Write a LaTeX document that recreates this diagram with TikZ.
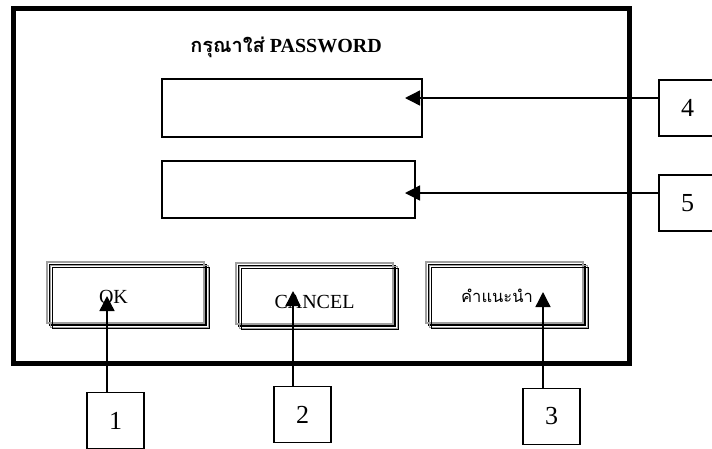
\documentclass[tikz,border=0pt]{standalone}
\usepackage{fontspec}
\setmainfont{Liberation Serif}
\newfontfamily\thai[Script=Thai]{Loma}
\usetikzlibrary{arrows.meta}
\tikzset{
  frame/.style={draw=black, line width=5pt},
  field/.style={draw=black, line width=1.5pt, inner sep=0pt},
  numbox/.style={draw=black, line width=1.3pt, minimum width=57pt, minimum height=56pt, inner sep=0pt, font=\fontsize{26}{28}\selectfont},
  btn/.style={draw=black, line width=1.3pt, minimum width=156pt, minimum height=60pt, inner sep=0pt},
  btnshade/.style={draw=gray!75, line width=1.8pt},
  btnshadow/.style={draw=black, line width=1.3pt},
  arr/.style={draw=black, line width=1.4pt, -{Triangle[length=15pt,width=15pt]}},
}
\begin{document}
\begin{tikzpicture}[x=1pt,y=-1pt]
\useasboundingbox (0,0) rectangle (712,448);
\clip (0,0) rectangle (712,448);
\fill[white] (0,0) rectangle (712,448);
% outer window
\draw[frame] (13,8) rectangle (629.5,363);
% title
\node (title) at (286,47) {\fontsize{20}{22}\selectfont\bfseries{\thai กรุณาใส่} PASSWORD};
% input fields
\node[field, minimum width=260pt, minimum height=58pt] (pw1) at (292,108) {};
\node[field, minimum width=253pt, minimum height=57pt] (pw2) at (288.5,189.5) {};
% buttons
\node[btn] (ok) at (128,295) {};
\node[btn] (cancel) at (317,296) {};
\node[btn] (help) at (507,295) {};
\foreach \b in {ok,cancel,help}{
  \draw[btnshade] ([shift={(-2.5,-2.5)}]\b.north west) rectangle ([shift={(-2.5,-2.5)}]\b.south east);
  \draw[btnshade, line width=1.2pt] ([shift={(1.5,1.5)}]\b.north west) rectangle ([shift={(1.5,1.5)}]\b.south east);
  \draw[btnshadow] ([shift={(3,3)}]\b.north west) rectangle ([shift={(3,3)}]\b.south east);
}
\node[font=\fontsize{20}{22}\selectfont, anchor=base] (oktext) at (113.5,303) {OK};
\node[font=\fontsize{20}{22}\selectfont, anchor=base] (canceltext) at (314.5,308) {CANCEL};
\node[font=\thai\fontsize{16.5}{18}\selectfont, anchor=base] (helptext) at (497,302) {คำแนะนำ};
% number boxes
\node[numbox] (n1) at (115.5,420.5) {1};
\node[numbox] (n2) at (302.5,414.5) {2};
\node[numbox] (n3) at (551.5,416.5) {3};
\node[numbox] (n4) at (687.5,108) {4};
\node[numbox] (n5) at (687.5,203) {5};
% arrow targets
\coordinate (t1) at (107,296);
\coordinate (t2) at (293,291);
\coordinate (t3) at (543,292);
\coordinate (t4) at (405,98);
\coordinate (t5) at (405,193);
% connectors
\draw[arr] (t1 |- n1.north) -- (t1);
\draw[arr] (t2 |- n2.north) -- (t2);
\draw[arr] (t3 |- n3.north) -- (t3);
\draw[arr] (t4 -| n4.west) -- (t4);
\draw[arr] (t5 -| n5.west) -- (t5);
\end{tikzpicture}
\end{document}
